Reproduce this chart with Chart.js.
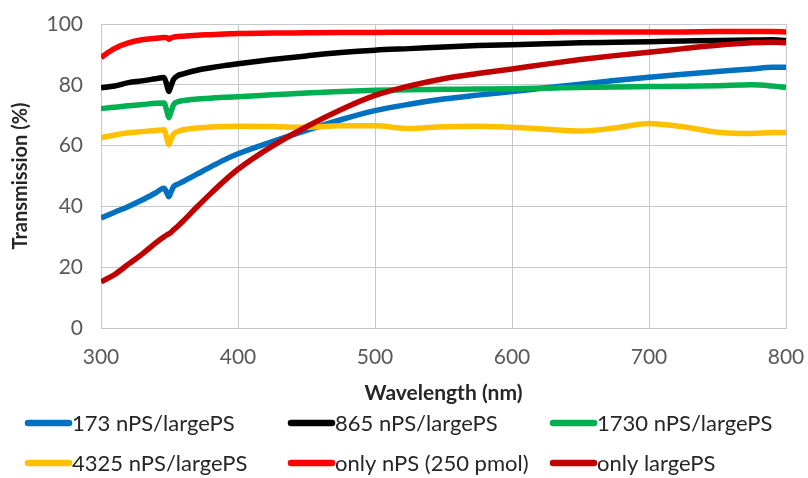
<!DOCTYPE html>
<html>
<head>
<meta charset="utf-8">
<script src="https://cdn.jsdelivr.net/npm/chart.js@4.4.1/dist/chart.umd.min.js"></script>
<style>
  html, body { margin: 0; padding: 0; background: #fff; }
  #wrap { width: 808px; height: 478px; }
</style>
</head>
<body>
<div id="wrap"><canvas id="transChart" width="808" height="478"></canvas></div>
<script>
// wavelength grid (nm), denser around the 349 nm notch
var wavelengths = [300, 310, 320, 330, 340, 346, 348, 349.5, 351, 353, 356, 360, 370, 380, 390, 400,
  425, 450, 475, 500, 525, 550, 575, 600, 625, 650, 675, 700, 725, 750, 775, 790, 800];

var seriesNames = ['173 nPS/largePS', '865 nPS/largePS', '1730 nPS/largePS',
  '4325 nPS/largePS', 'only nPS (250 pmol)', 'only largePS'];
var seriesColors = ['#0070c0', '#000000', '#00b050', '#ffc000', '#ff0000', '#c00000'];

// transmission (%)
var t173 = [36.2, 38.1, 40.0, 42.1, 44.5, 46.0, 44.5, 43.2, 44.6, 46.5, 47.3, 48.2, 50.6, 53.0, 55.3, 57.3,
  61.3, 65.0, 68.5, 71.5, 73.6, 75.3, 76.6, 77.8, 79.0, 80.2, 81.4, 82.5, 83.5, 84.4, 85.2, 85.8, 85.8];
var t865 = [79.0, 79.6, 80.7, 81.3, 82.0, 82.4, 80.0, 77.8, 79.5, 81.8, 83.0, 83.6, 84.8, 85.6, 86.3, 86.9,
  88.3, 89.5, 90.6, 91.4, 91.9, 92.4, 92.9, 93.2, 93.5, 93.8, 94.0, 94.2, 94.4, 94.6, 94.7, 94.8, 94.6];
var t1730 = [72.2, 72.6, 73.1, 73.5, 73.9, 74.0, 71.5, 69.2, 71.0, 73.5, 74.4, 74.8, 75.3, 75.6, 75.9, 76.1,
  76.7, 77.3, 77.8, 78.2, 78.4, 78.5, 78.6, 78.7, 78.9, 79.1, 79.3, 79.4, 79.5, 79.7, 80.0, 79.6, 79.1];
var t4325 = [62.6, 63.5, 64.2, 64.6, 65.0, 65.2, 62.5, 60.3, 62.0, 63.8, 64.6, 65.2, 65.8, 66.1, 66.3, 66.4,
  66.3, 66.0, 66.5, 66.5, 65.6, 66.2, 66.4, 66.0, 65.4, 64.8, 65.8, 67.3, 66.2, 64.4, 64.0, 64.3, 64.3];
var tOnlyNPS = [89.0, 92.0, 93.8, 94.8, 95.3, 95.6, 95.5, 95.0, 95.4, 95.7, 95.9, 96.0, 96.3, 96.5, 96.7, 96.9,
  97.0, 97.1, 97.2, 97.2, 97.3, 97.3, 97.3, 97.3, 97.3, 97.4, 97.4, 97.4, 97.4, 97.5, 97.5, 97.5, 97.4];
var tOnlyLarge = [15.2, 17.6, 21.0, 24.3, 28.0, 30.0, 30.6, 31.0, 31.4, 32.3, 33.5, 35.2, 39.8, 44.2, 48.4, 52.2,
  59.8, 66.2, 71.8, 76.5, 79.6, 82.0, 83.7, 85.2, 86.8, 88.3, 89.6, 90.7, 91.9, 93.0, 93.8, 94.0, 93.8];

var allSeries = [t173, t865, t1730, t4325, tOnlyNPS, tOnlyLarge];

var fontFamily = 'Lato, "Open Sans", sans-serif';
Chart.defaults.font.family = fontFamily;

var datasets = allSeries.map(function (vals, i) {
  return {
    label: seriesNames[i],
    data: vals.map(function (v, j) { return { x: wavelengths[j], y: v }; }),
    borderColor: seriesColors[i],
    backgroundColor: seriesColors[i],
    borderWidth: 5.5,
    pointRadius: 0,
    cubicInterpolationMode: 'monotone',
    order: allSeries.length - i
  };
});

// legend in a fixed 3-column grid below the axis
var gridLegend = {
  id: 'gridLegend',
  afterDraw: function (chart) {
    var ctx = chart.ctx;
    var cols = [25, 288, 550];
    var rows = [423, 463];
    chart.data.datasets.forEach(function (ds, i) {
      var x = cols[i % 3], y = rows[Math.floor(i / 3)];
      ctx.save();
      ctx.strokeStyle = ds.borderColor;
      ctx.lineWidth = 6.5;
      ctx.lineCap = 'round';
      ctx.beginPath();
      ctx.moveTo(x + 3, y);
      ctx.lineTo(x + 44, y);
      ctx.stroke();
      ctx.fillStyle = '#262626';
      ctx.font = '22px ' + fontFamily;
      ctx.textBaseline = 'middle';
      ctx.fillText(ds.label, x + 47, y + 1);
      ctx.restore();
    });
  }
};

// fixed axis box sizes; edge tick labels may overhang into the layout padding
function fixBox(size) {
  return function (scale) {
    if (scale.isHorizontal()) scale.height = size; else scale.width = size;
    scale.paddingTop = 0;
    scale.paddingBottom = 0;
    scale.paddingLeft = 0;
    scale.paddingRight = 0;
  };
}

new Chart(document.getElementById('transChart'), {
  type: 'line',
  data: { datasets: datasets },
  options: {
    responsive: false,
    animation: false,
    layout: { padding: { top: 24, right: 22, bottom: 72, left: 0 } },
    plugins: {
      legend: { display: false },
      tooltip: { enabled: false }
    },
    scales: {
      x: {
        type: 'linear',
        min: 300,
        max: 800,
        afterFit: fixBox(78),
        ticks: { stepSize: 100, color: '#595959', font: { size: 21 }, padding: 17, maxRotation: 0 },
        grid: { color: '#c8c8c8', drawTicks: false },
        border: { color: '#c8c8c8' },
        title: {
          display: true,
          text: 'Wavelength (nm)',
          color: '#262626',
          font: { size: 21, weight: 'bold' },
          padding: { top: 0, bottom: 0 }
        }
      },
      y: {
        min: 0,
        max: 100,
        afterFit: fixBox(101),
        ticks: { stepSize: 20, color: '#595959', font: { size: 21 }, padding: 18 },
        grid: { color: '#c8c8c8', drawTicks: false },
        border: { color: '#c8c8c8' },
        title: {
          display: true,
          text: 'Transmission (%)',
          color: '#262626',
          font: { size: 20, weight: 'bold' },
          padding: { top: 9, bottom: 0 }
        }
      }
    }
  },
  plugins: [gridLegend]
});
</script>
</body>
</html>
